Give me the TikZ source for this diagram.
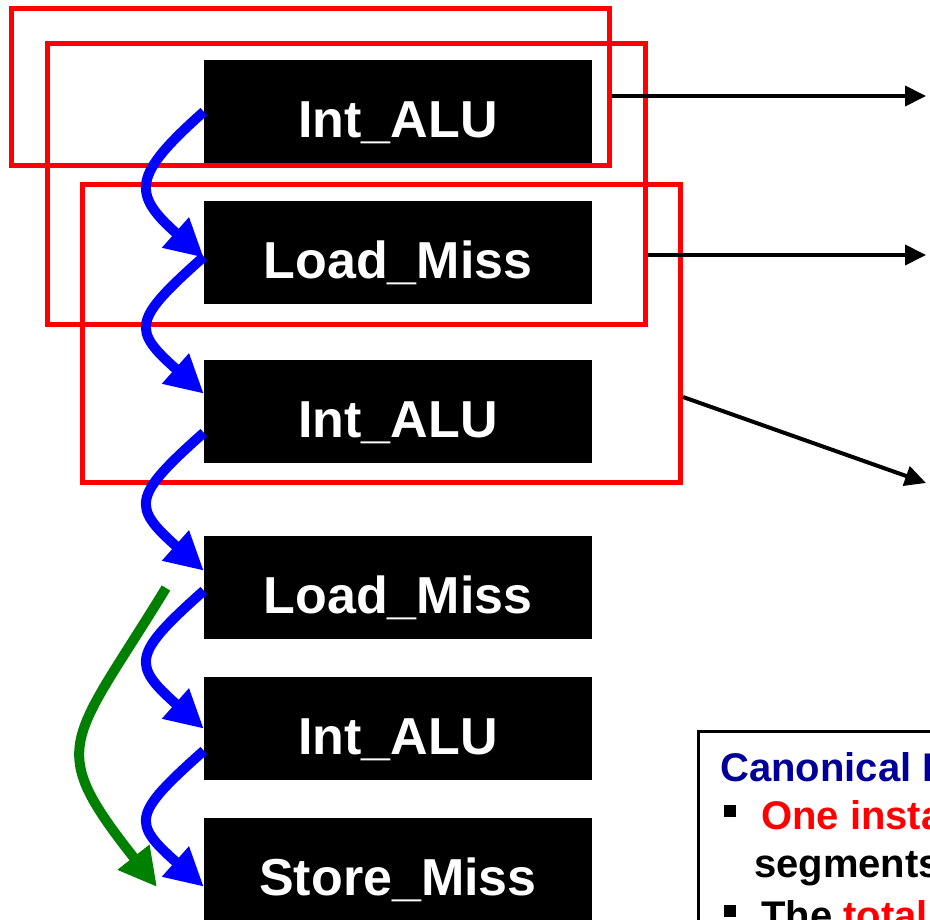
\documentclass[tikz,border=0pt]{standalone}
\usepackage{fontspec}
\setmainfont{Liberation Sans}
\usetikzlibrary{arrows.meta,calc,positioning,matrix}
\definecolor{navy}{RGB}{0,0,153}
\definecolor{darkgreen}{RGB}{0,128,0}
\tikzset{
	op/.style={fill=black,text=white,minimum width=388pt,minimum height=103pt,inner sep=0pt,
		text height=51pt,text depth=0pt,font=\fontsize{52}{60}\selectfont\bfseries},
	window/.style={draw=red,line width=5pt,minimum width=598pt,inner sep=0pt},
	seqarrow/.style={draw=blue,line width=10pt,-{Triangle[length=38pt,width=38pt]}},
	deparrow/.style={draw=darkgreen,line width=10pt,-{Triangle[length=38pt,width=38pt]}},
	emit/.style={draw=black,line width=4pt,-{Triangle[length=21pt,width=20pt]}},
	note/.style={font=\fontsize{40}{48}\selectfont\bfseries,anchor=base west,inner sep=0pt}
}
\begin{document}
\begin{tikzpicture}[x=1pt,y=-1pt]
		\useasboundingbox (0,0) rectangle (930,920);
		\clip (0,0) rectangle (930,920);
		\matrix (trace) [matrix of nodes,nodes={op},row sep=38pt,inner sep=0pt,anchor=north] at (398,60)
		{
			Int\_ALU    \\
			Load\_Miss  \\[18pt]
			Int\_ALU    \\[35pt]
			Load\_Miss  \\
			Int\_ALU    \\
			Store\_Miss \\
		};
		\node[window,minimum height=157pt] (win1) at (310.5,87) {};
		\node[window,minimum height=281pt] (win2) at (346,184.5) {};
		\node[window,minimum height=298pt] (win3) at (381.5,333.5) {};
		%%
		\coordinate (t1) at (926,96);
		\coordinate (t2) at (926,255);
		\coordinate (t3) at (926,483);
		\draw[emit] (win1.east |- t1)--(t1);
		\draw[emit] (win2.east |- t2)--(t2);
		\draw[emit] ([yshift=-63.5pt]win3.east)--(t3);
		%%
		\foreach \a/\b/\sa/\sb in {1/2/0/-5, 2/3/-4/18, 3/4/-21/17, 4/5/-3/0, 5/6/-22/-17}
		{
			\path ([yshift=\sa pt]trace-\a-1.west) coordinate (s) ([yshift=\sb pt]trace-\b-1.west) coordinate (e);
			\draw[seqarrow] (s) .. controls ($(s)+(-72,64)$) and ($(e)+(-72,-64)$) .. (e);
		}
		\coordinate (g1) at (166,588);
		\coordinate (g2) at (157,887);
		\draw[deparrow] (g1) .. controls (70,745) and (45,745) .. (g2);
		%%
		\draw[line width=3pt] (698,731) rectangle (960,960);
		\node[note,text=navy] (head) at (720,781) {Canonical Instruction};
		\node[note] (item1) at (724,829) {\raisebox{12pt}{\rule{12pt}{12pt}}\hspace{25pt}\textcolor{red}{One instance}};
		\node[note] (item1b) at (754,877) {segments};
		\node[note] (item2) at (724,929) {\raisebox{12pt}{\rule{12pt}{12pt}}\hspace{25pt}The \textcolor{red}{total}};
	\end{tikzpicture}
\end{document}
